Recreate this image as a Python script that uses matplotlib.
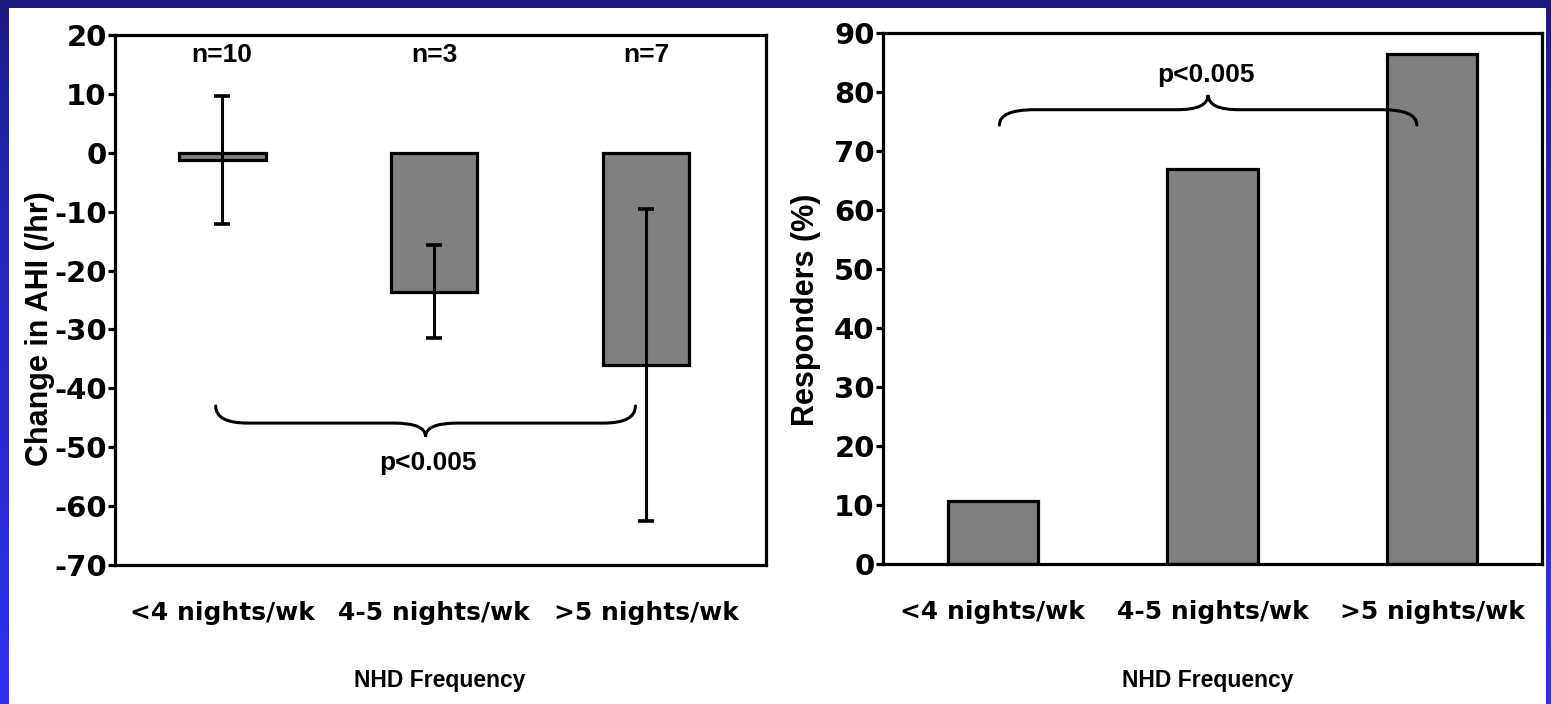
import numpy as np
import matplotlib
matplotlib.use("Agg")
import matplotlib.pyplot as plt
from matplotlib.path import Path
from matplotlib.patches import PathPatch, Rectangle

# ---- data ----
categories = ["<4 nights/wk", "4-5 nights/wk", ">5 nights/wk"]
group_n = ["n=10", "n=3", "n=7"]
ahi_change = [-1.2, -23.6, -36.0]        # mean change in AHI (/hr)
ahi_err = [10.9, 7.9, 26.5]              # spread shown as error bars
responders = [10.7, 67.0, 86.5]          # responders (%)
left_yticks = list(range(-70, 21, 10))
right_yticks = list(range(0, 91, 10))
p_label = "p<0.005"

W, H = 1551, 704
DPI = 100
fig = plt.figure(figsize=(W / DPI, H / DPI), dpi=DPI, facecolor="white")

# ---- slide frame: navy top band and blue gradient side bands ----
bg = fig.add_axes([0, 0, 1, 1], zorder=-10)
bg.set_xlim(0, W)
bg.set_ylim(0, H)
bg.axis("off")
navy = np.array([0x1b, 0x1a, 0x7c]) / 255
blue = np.array([0x30, 0x30, 0xf2]) / 255
t = np.linspace(0, 1, 256) ** 0.6
grad = (navy[None, :] * (1 - t[:, None]) + blue[None, :] * t[:, None])[:, None, :]
bg.imshow(grad, extent=(0, 9, 0, H - 8), origin="upper", aspect="auto")
bg.imshow(grad, extent=(W - 5, W, 0, H - 8), origin="upper", aspect="auto")
bg.add_patch(Rectangle((0, H - 8), W, 8, color=navy, lw=0))

tick_font = dict(family="DejaVu Sans", weight="bold", size=21)
cat_font = dict(family="DejaVu Sans", weight="bold", size=18)
label_font = dict(family="Liberation Sans", weight="bold", size=22)
xlab_font = dict(family="Liberation Sans", weight="bold", size=16.5)
note_font = dict(family="Liberation Sans", weight="bold", size=19)

LW = 2.3
BAR_W = 0.41
x = np.arange(len(categories))


def style_axes(ax):
    for s in ax.spines.values():
        s.set_linewidth(LW)
        s.set_color("black")
    ax.tick_params(axis="x", length=0, pad=26)
    ax.tick_params(axis="y", length=5, width=LW, pad=1)
    ax.set_xticks(x)
    ax.set_xticklabels(categories, **cat_font)


def brace(ax, x0, x1, y_line, y_end, y_tip, end_w, mid_w):
    xm = (x0 + x1) / 2
    verts = [
        (x0, y_end), (x0, y_line), (x0 + end_w, y_line),
        (xm - mid_w, y_line),
        (xm, y_line), (xm, y_tip),
        (xm, y_line), (xm + mid_w, y_line),
        (x1 - end_w, y_line),
        (x1, y_line), (x1, y_end),
    ]
    codes = [Path.MOVETO, Path.CURVE3, Path.CURVE3,
             Path.LINETO,
             Path.CURVE3, Path.CURVE3,
             Path.CURVE3, Path.CURVE3,
             Path.LINETO,
             Path.CURVE3, Path.CURVE3]
    ax.add_patch(PathPatch(Path(verts, codes), fill=False, lw=2.2,
                           edgecolor="black", capstyle="round", zorder=4))


# ---- left panel: change in AHI ----
axL = fig.add_axes([115 / W, 1 - 565 / H, (766 - 115) / W, (565 - 35) / H])
axL.bar(x, ahi_change, width=BAR_W, color="#808080", edgecolor="black",
        linewidth=LW, zorder=2)
axL.errorbar(x, ahi_change, yerr=ahi_err, fmt="none", ecolor="black",
             elinewidth=2.2, capsize=6, capthick=2.6, zorder=3)
axL.set_xlim(-0.505, 2.566)
axL.set_ylim(-70, 20)
axL.set_yticks(left_yticks)
axL.set_yticklabels([str(v) for v in left_yticks], **tick_font)
style_axes(axL)
for xi, lab in zip(x, group_n):
    axL.text(xi, 16.6, lab, ha="center", va="center", **note_font)
brace(axL, -0.03, 1.95, -45.9, -43.0, -48.2, 0.15, 0.15)
axL.text(0.97, -52.7, p_label, ha="center", va="center", **note_font)

# ---- right panel: responders ----
axR = fig.add_axes([883 / W, 1 - 564 / H, (1542 - 883) / W, (564 - 33) / H])
axR.bar(x, responders, width=BAR_W, color="#808080", edgecolor="black",
        linewidth=LW, zorder=2)
axR.set_xlim(-0.5, 2.5)
axR.set_ylim(0, 90)
axR.set_yticks(right_yticks)
axR.set_yticklabels([str(v) for v in right_yticks], **tick_font)
style_axes(axR)
brace(axR, 0.03, 1.93, 77.0, 74.4, 79.5, 0.16, 0.14)
axR.text(0.97, 82.9, p_label, ha="center", va="center", **note_font)

# ---- axis titles ----
fig.text(40 / W, 1 - 329 / H, "Change in AHI (/hr)", rotation=90,
         ha="center", va="center", **label_font)
fig.text(806 / W, 1 - 310 / H, "Responders (%)", rotation=90,
         ha="center", va="center", **label_font)
fig.text(440 / W, 1 - 680 / H, "NHD Frequency", ha="center", va="center",
         **xlab_font)
fig.text(1208 / W, 1 - 680 / H, "NHD Frequency", ha="center", va="center",
         **xlab_font)

fig.savefig("out.png", dpi=DPI, facecolor="white")
